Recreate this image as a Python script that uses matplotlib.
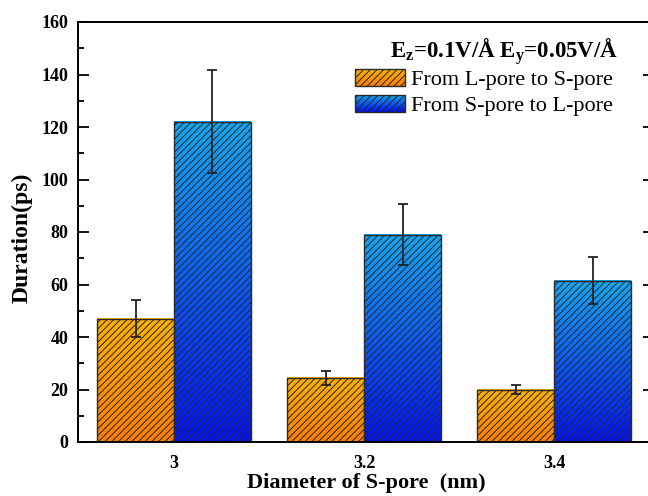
import numpy as np
import matplotlib
matplotlib.use("Agg")
import matplotlib.pyplot as plt
from matplotlib.colors import LinearSegmentedColormap
from matplotlib.patches import Rectangle
from matplotlib.legend_handler import HandlerBase

plt.rcParams['font.family'] = ['Liberation Serif', 'DejaVu Serif']
plt.rcParams['font.weight'] = 'bold'
plt.rcParams['mathtext.default'] = 'regular'
plt.rcParams['hatch.linewidth'] = 0.75

# data
diameters = ['3', '3.2', '3.4']
l_to_s = [47, 24.5, 20]
l_to_s_err = [7, 2.6, 1.9]
s_to_l = [122, 79, 61.5]
s_to_l_err = [19.6, 11.6, 8.8]

labels = ['From L-pore to S-pore', 'From S-pore to L-pore']
title = 'E$_z$=0.1V/Å E$_y$=0.05V/Å'

# gradient colours (top, bottom)
orange = ('#ffb300', '#ff7d00')
blue = ('#15a8f0', '#0010f8')
edge = '#2a2a2a'
hatch = '/////'


def make_cmap(c):
    # bottom -> top
    return LinearSegmentedColormap.from_list('g', [c[1], c[0]])


class GradHandler(HandlerBase):
    def __init__(self, colors):
        super().__init__()
        self.cmap = make_cmap(colors)

    def create_artists(self, legend, orig_handle, xdescent, ydescent,
                       width, height, fontsize, trans):
        arts = []
        n = 24
        for i in range(n):
            r = Rectangle((-xdescent, -ydescent + height * i / n), width,
                          height / n * 1.05, facecolor=self.cmap(i / (n - 1)),
                          edgecolor='none', transform=trans)
            arts.append(r)
        arts.append(Rectangle((-xdescent, -ydescent), width, height,
                              facecolor='none', edgecolor=edge, hatch=hatch,
                              lw=1.0, transform=trans))
        return arts


fig = plt.figure(figsize=(6.48, 4.96), dpi=100)
ax = fig.add_axes([78 / 648, 1 - 442 / 496, 576 / 648, 420 / 496])

x = np.arange(len(diameters))
w = 0.405

bars = []
for vals, errs, off, cols in [(l_to_s, l_to_s_err, -w / 2, orange),
                              (s_to_l, s_to_l_err, w / 2, blue)]:
    cmap = make_cmap(cols)
    grad = np.linspace(0, 1, 256).reshape(-1, 1)
    for xi, v in zip(x + off, vals):
        ax.imshow(grad, cmap=cmap, origin='lower', aspect='auto',
                  extent=[xi - w / 2, xi + w / 2, 0, v], zorder=1)
    b = ax.bar(x + off, vals, w, facecolor='none', edgecolor=edge,
               hatch=hatch, lw=1.0, zorder=2)
    bars.append(b)
    ax.errorbar(x + off, vals, yerr=errs, fmt='none', ecolor='#222222',
                elinewidth=1.3, capsize=3.5, capthick=1.3, zorder=3)

ax.set_xlim(-0.505, 2.525)
ax.set_ylim(0, 160)
ax.set_xticks(x)
ax.set_xticklabels(diameters)
ax.set_yticks(np.arange(0, 161, 20))
ax.set_yticks(np.arange(10, 160, 20), minor=True)
ax.tick_params(axis='x', length=0, labelsize=13, pad=9)
ax.tick_params(axis='y', which='major', direction='in', length=8, width=1.3,
               labelsize=13, right=True, pad=7)
ax.tick_params(axis='y', which='minor', direction='in', length=4, width=1.3,
               right=True)
for s in ax.spines.values():
    s.set_linewidth(1.4)

ax.set_xlabel('Diameter of S-pore  (nm)', fontsize=16, fontweight='bold',
              labelpad=1)
ax.set_ylabel('Duration(ps)', fontsize=17, fontweight='bold')
ax.yaxis.set_label_coords(-0.078, 0.485)

# legend title as separate text so it can hang a bit further right
ax.text(0.9375, 0.93, title, transform=ax.transAxes, ha='right',
        va='center', fontsize=16.5, fontweight='bold')

leg = ax.legend(bars, labels, loc='upper right',
                bbox_to_anchor=(0.956, 0.925), frameon=False, fontsize=16,
                handlelength=2.25, handleheight=0.8,
                handletextpad=0.3, labelspacing=0.2, borderpad=0.2,
                handler_map={bars[0]: GradHandler(orange),
                             bars[1]: GradHandler(blue)})
for t in leg.get_texts():
    t.set_fontweight('normal')

fig.savefig('out.png', dpi=100)
